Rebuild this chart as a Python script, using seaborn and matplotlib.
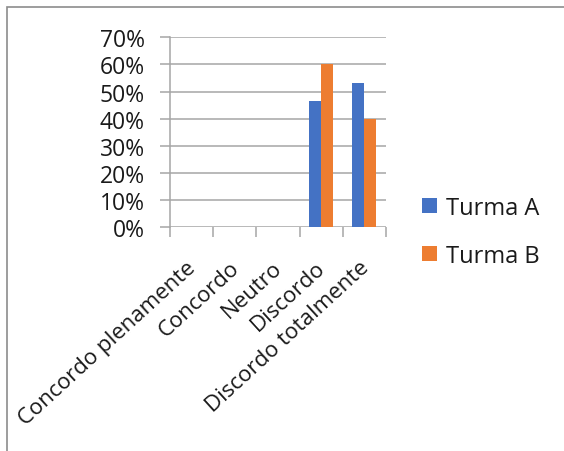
import pandas as pd
import matplotlib.pyplot as plt
import seaborn as sns
from matplotlib.patches import Rectangle
from matplotlib.ticker import PercentFormatter
from matplotlib.transforms import ScaledTranslation

# valores
categorias = ['Concordo plenamente', 'Concordo', 'Neutro', 'Discordo', 'Discordo totalmente']
turma_a = [0, 0, 0, 46.67, 53.33]
turma_b = [0, 0, 0, 60.0, 40.0]
series = ['Turma A', 'Turma B']

AZUL = '#4472C4'
LARANJA = '#ED7D31'
GRADE = '#a6a6a6'
TEXTO = '#1a1a1a'

sns.set_theme(style='white')
plt.rcParams['font.family'] = ['Open Sans', 'DejaVu Sans']

df = pd.DataFrame({
    'categoria': categorias * 2,
    'valor': turma_a + turma_b,
    'turma': [series[0]] * len(categorias) + [series[1]] * len(categorias),
})

fig = plt.figure(figsize=(5.64, 4.52), dpi=100)
ax = fig.add_axes([0.3014, 0.4949, 0.383, 0.4204])

sns.barplot(data=df, x='categoria', y='valor', hue='turma', order=categorias,
            palette=[AZUL, LARANJA], width=0.56, saturation=1, ax=ax,
            edgecolor='none', linewidth=0)

ax.set_ylim(0, 70)
ax.set_xlim(-0.5, len(categorias) - 0.5)
ax.set_yticks(range(0, 71, 10))
ax.yaxis.set_major_formatter(PercentFormatter(decimals=0))
ax.set_xlabel('')
ax.set_ylabel('')

ax.grid(True, axis='y', color=GRADE, linewidth=1.1)
ax.set_axisbelow(True)
for s in ['top', 'right', 'bottom']:
    ax.spines[s].set_visible(False)
ax.spines['left'].set_color(GRADE)
ax.spines['left'].set_linewidth(1.1)

# marcas do eixo x entre categorias
ax.set_xticks([i - 0.5 for i in range(len(categorias) + 1)], minor=True)
ax.tick_params(axis='x', which='minor', length=7, color=GRADE, width=1.1, bottom=True)
ax.tick_params(axis='x', which='major', length=0, pad=21)
ax.tick_params(axis='y', length=7, color=GRADE, width=1.1, left=True, pad=11,
               labelsize=16.5, labelcolor=TEXTO)
ax.set_xticks(range(len(categorias)))
ax.set_xticklabels(categorias, rotation=42.5, ha='right', rotation_mode='anchor',
                   fontsize=16, color=TEXTO)
desloc = ScaledTranslation(-4 / 72, 0, fig.dpi_scale_trans)
for lbl in ax.get_xticklabels():
    lbl.set_transform(lbl.get_transform() + desloc)

leg = ax.legend(loc='center left', bbox_to_anchor=(1.07, -0.025), frameon=False,
                fontsize=17, handlelength=0.6, handleheight=0.6,
                handletextpad=0.4, labelspacing=1.0, labelcolor=TEXTO)

fig.add_artist(Rectangle((7 / 564, -0.1), 1.2, 1 - 8 / 452 + 0.1,
                         transform=fig.transFigure, fill=False,
                         edgecolor='#8c8c8c', linewidth=1.2))

fig.savefig('out.png', dpi=100, facecolor='white')
